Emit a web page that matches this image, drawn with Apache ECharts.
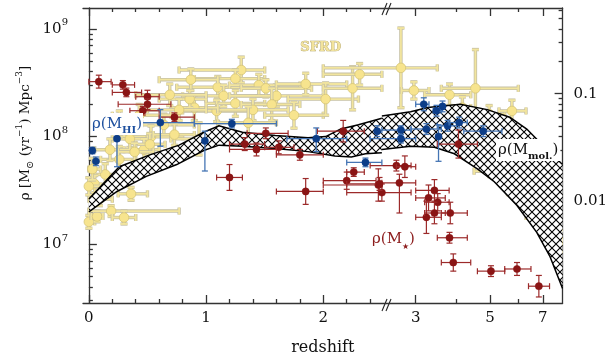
<!DOCTYPE html>
<html><head><meta charset="utf-8">
<script src="https://cdn.jsdelivr.net/npm/echarts@6.0.0/dist/echarts.min.js"></script>
<style>html,body{margin:0;padding:0;background:#fff}#c{width:610px;height:361px}</style>
</head><body><div id="c"></div>
<script>
// ---------- DATA ----------
// redshift axis: linear up to z=2.5, then log(1+z)
const xTickMajorZ = [0, 1, 2, 3, 5, 7];
const xTickMajorLabels = ['0', '1', '2', '3', '5', '7'];
const xTickMinorZ = [0.2,0.4,0.6,0.8,1.2,1.4,1.6,1.8,2.2,2.4,4,6];
const yLeftMajorExp = [7, 8, 9];
const yRightMajorLog = [-2, -1];
const yRightMajorLabels = ['0.01', '0.1'];

// rows: [z, zLo, zHi, log10(rho), errDown(dex), errUp(dex)]
const stellarMass = [
 [0.085,0.0,0.19,8.51,0.06,0.06],[0.29,0.20,0.39,8.48,0.04,0.04],[0.32,0.20,0.45,8.41,0.04,0.04],
 [0.50,0.40,0.60,8.37,0.06,0.06],[0.50,0.25,0.70,8.30,0.05,0.05],[0.46,0.35,0.60,8.24,0.04,0.04],
 [0.73,0.60,0.90,8.18,0.04,0.04],[1.20,1.09,1.31,7.62,0.12,0.12],[1.33,1.20,1.50,7.93,0.06,0.06],
 [1.51,1.35,1.70,8.03,0.05,0.05],[1.62,1.50,1.75,7.90,0.06,0.06],[1.80,1.60,2.00,7.83,0.05,0.05],
 [1.43,1.20,1.60,7.88,0.06,0.06],[1.85,1.60,2.00,7.49,0.12,0.12],[2.17,1.95,2.35,8.05,0.10,0.10],
 [2.26,2.20,2.35,7.67,0.04,0.04],[2.20,2.00,2.45,7.59,0.08,0.08],[2.47,2.00,2.50,7.55,0.15,0.15],
 [2.50,2.20,2.90,7.48,0.08,0.08],[2.60,2.40,2.90,7.73,0.05,0.05],[2.66,2.50,3.00,7.57,0.28,0.08],
 [2.77,2.60,3.00,7.72,0.10,0.10],[2.48,2.20,2.50,7.56,0.06,0.06],[3.43,3.00,3.80,7.50,0.10,0.10],
 [3.29,3.00,3.70,7.43,0.12,0.12],[3.51,3.20,3.80,7.39,0.08,0.08],[3.24,3.00,3.60,7.25,0.15,0.15],
 [3.43,3.20,3.70,7.29,0.10,0.10],[3.83,3.60,4.30,7.29,0.10,0.10],[3.81,3.50,4.30,7.06,0.05,0.05],
 [3.91,3.60,4.40,6.83,0.08,0.08],[5.03,4.60,5.50,6.75,0.05,0.05],[5.95,5.50,6.50,6.77,0.06,0.06],
 [6.83,6.40,7.30,6.61,0.10,0.10],[4.05,3.50,4.60,7.93,0.13,0.13]
];
const hiMass = [
 [0.03,0.03,0.03,7.87,0.03,0.03],[0.06,0.06,0.06,7.77,0.04,0.04],[0.24,0.24,0.24,7.98,0.26,0.02],
 [0.61,0.39,0.90,8.13,0.22,0.12],[1.22,0.90,1.60,8.12,0.04,0.04],[0.99,0.99,0.99,7.96,0.28,0.09],
 [1.94,1.69,2.20,7.98,0.12,0.10],[2.36,2.20,2.50,7.76,0.04,0.04],[2.46,2.46,2.46,8.05,0.05,0.05],
 [2.69,2.50,2.90,8.06,0.04,0.04],[2.69,2.40,3.00,7.98,0.04,0.04],[3.24,2.90,3.60,8.07,0.05,0.05],
 [3.53,3.53,3.53,8.00,0.23,0.11],[3.76,3.50,4.00,8.10,0.05,0.05],[4.07,3.80,4.30,8.13,0.05,0.05],
 [4.78,4.20,5.40,8.05,0.05,0.05],[3.18,3.00,3.30,8.30,0.06,0.06],[3.48,3.40,3.60,8.24,0.05,0.05],
 [3.63,3.63,3.63,8.28,0.05,0.05]
];
// SFRD rows: [z, zLo, zHi, log10(SFRD), errDown, errUp]
const sfrd = [
 [1.30,0.77,1.50,-0.78,0.12,0.12],[1.25,0.90,1.50,-0.86,0.08,0.08],[1.10,0.75,1.45,-0.94,0.10,0.10],
 [1.15,0.80,1.60,-1.02,0.10,0.10],[1.25,1.00,1.50,-1.09,0.12,0.12],[1.09,0.80,1.40,-1.16,0.10,0.10],
 [1.45,1.20,1.80,-0.92,0.10,0.10],[1.51,1.30,1.90,-0.95,0.08,0.08],[1.60,1.20,2.00,-1.02,0.10,0.10],
 [1.56,1.30,1.80,-1.10,0.15,0.15],[1.40,1.10,1.70,-1.15,0.10,0.10],[1.36,1.10,1.60,-1.27,0.15,0.15],
 [1.75,1.50,2.00,-1.20,0.12,0.12],[1.85,1.60,2.20,-0.91,0.10,0.10],[2.02,1.70,2.30,-1.05,0.15,0.15],
 [2.25,2.00,2.50,-0.95,0.20,0.20],[2.31,2.00,2.50,-0.82,0.10,0.10],[0.90,0.70,1.10,-1.13,0.12,0.12],
 [2.69,2.00,3.50,-0.76,0.37,0.37],[2.96,2.70,3.30,-0.97,0.08,0.08],[3.81,3.20,4.40,-1.01,0.10,0.10],
 [4.54,3.60,6.00,-0.95,0.40,0.36],[4.16,3.90,4.40,-1.13,0.10,0.10],[4.97,4.50,5.50,-1.19,0.08,0.08],
 [5.76,5.30,6.30,-1.16,0.10,0.10],[5.03,4.50,5.60,-1.72,0.05,0.05],[5.91,5.60,6.30,-1.92,0.06,0.06],
 [6.79,6.30,7.30,-2.14,0.10,0.10],[7.77,7.30,8.30,-2.37,0.10,0.10],[0.87,0.60,1.10,-0.87,0.10,0.10],
 [0.86,0.60,1.00,-1.05,0.08,0.08],[0.77,0.50,1.00,-1.15,0.10,0.10],[0.69,0.40,1.00,-1.01,0.10,0.10],
 [0.64,0.40,0.90,-1.29,0.10,0.10],[0.53,0.30,0.80,-1.40,0.10,0.10],[0.43,0.20,0.70,-1.20,0.10,0.10],
 [0.35,0.20,0.50,-1.42,0.08,0.08],[0.47,0.30,0.60,-1.52,0.10,0.10],[0.26,0.10,0.40,-1.61,0.12,0.12],
 [0.18,0.05,0.35,-1.52,0.10,0.10],[0.14,0.05,0.25,-1.75,0.10,0.10],[0.05,0.00,0.15,-1.84,0.08,0.08],
 [0.00,0.00,0.05,-2.19,0.06,0.06],[0.07,0.02,0.12,-2.14,0.05,0.05],[0.19,0.00,0.77,-2.09,0.05,0.05],
 [0.30,0.20,0.40,-2.15,0.06,0.06],[0.36,0.25,0.50,-1.93,0.06,0.06],[0.09,0.00,0.20,-1.98,0.06,0.06],
 [0.94,0.70,1.20,-1.42,0.15,0.15],[0.52,0.40,0.65,-1.47,0.10,0.10],[0.39,0.25,0.55,-1.54,0.08,0.08],
 [0.00,0.00,0.10,-1.86,0.08,0.08],[0.03,0.00,0.10,-1.70,0.10,0.10],[0.26,0.10,0.45,-1.28,0.12,0.12],
 [0.73,0.55,0.90,-1.38,0.10,0.10]
];
// molecular gas band edges: [z, log10(rho)]
const bandUpperLeft = [[0,7.42],[0.26,7.72],[0.52,7.83],[0.77,7.92],[0.98,8.04],[1.11,8.10],[1.31,8.04],[1.59,8.01],[1.87,7.99],[2.02,8.00],[2.15,8.07],[2.30,8.11],[2.5,8.17]];
const bandLowerLeft = [[0,7.30],[0.24,7.49],[0.49,7.63],[0.75,7.74],[0.98,7.87],[1.11,7.92],[1.31,7.91],[1.59,7.89],[1.87,7.86],[2.10,7.82],[2.24,7.81],[2.36,7.84],[2.5,7.85]];
const bandUpperRight = [[2.5,8.19],[2.89,8.23],[3.27,8.27],[4.10,8.30],[4.91,8.25],[5.68,8.18],[6.33,8.07],[7.04,7.91],[7.91,7.74]];
const bandLowerRight = [[2.5,7.88],[2.89,7.91],[3.43,7.90],[3.94,7.84],[4.60,7.70],[5.14,7.58],[5.95,7.36],[6.74,7.11],[7.31,6.89],[7.91,6.59]];

// ---------- helpers ----------
const LOG8 = Math.log10(8);
function zx(z) { return z <= 2.5 ? z : 3.873 + 3.602 * (Math.log10(1 + z) - LOG8); }
const P = v => Math.pow(10, v);
function toRows(rows) { return rows.map(r => [zx(r[0]), P(r[3]), zx(r[1]), zx(r[2]), P(r[3] - r[4]), P(r[3] + r[5])]); }

const FONT = 'DejaVu Serif';
const AX = '#333';
const yLmin = 6.454, yLmax = 9.194, yShift = 9.398;
const xMin = -0.05, xMax = 4.042;

const pat = document.createElement('canvas'); pat.width = pat.height = 8;
(function(){ const g = pat.getContext('2d'); g.fillStyle = '#fff'; g.fillRect(0,0,8,8);
  g.strokeStyle = '#000'; g.lineWidth = 1.1; g.beginPath();
  g.moveTo(-1,-1); g.lineTo(9,9); g.moveTo(-1,9); g.lineTo(9,-1); g.stroke(); })();

function errRender(st) {
  return function (params, api) {
    const x = api.value(0), y = api.value(1);
    const p = api.coord([x, y]);
    const l = api.coord([api.value(2), y]), r = api.coord([api.value(3), y]);
    const d = api.coord([x, api.value(4)]), u = api.coord([x, api.value(5)]);
    const c = st.cap, segs = [];
    if (r[0] - l[0] > 0.5) { segs.push([l, r], [[l[0], l[1]-c],[l[0], l[1]+c]], [[r[0], r[1]-c],[r[0], r[1]+c]]); }
    if (d[1] - u[1] > 0.5) { segs.push([u, d], [[u[0]-c, u[1]],[u[0]+c, u[1]]], [[d[0]-c, d[1]],[d[0]+c, d[1]]]); }
    const layers = st.outline ? [[st.outline, st.outW], [st.bar, st.barW]] : [[st.bar, st.barW]];
    const children = [];
    layers.forEach(([col, w]) => segs.forEach(s => children.push({ type: 'line',
      shape: { x1: s[0][0], y1: s[0][1], x2: s[1][0], y2: s[1][1] }, style: { stroke: col, lineWidth: w } })));
    children.push({ type: 'circle', shape: { cx: p[0], cy: p[1], r: st.r }, style: { fill: st.fill, stroke: st.stroke, lineWidth: st.sw } });
    return { type: 'group', children };
  };
}
function bandRender(params, api) {
  const mk = arr => arr.map(r => api.coord([zx(r[0]), P(r[1])]));
  const parts = [[bandUpperLeft, bandLowerLeft], [bandUpperRight, bandLowerRight]];
  const children = [];
  parts.forEach(([U, L]) => {
    const up = mk(U), lo = mk(L);
    children.push({ type: 'polygon', shape: { points: up.concat(lo.slice().reverse()) }, style: { fill: { image: pat, repeat: 'repeat' } } });
    children.push({ type: 'polyline', shape: { points: up }, style: { stroke: '#000', lineWidth: 1.5, fill: null } });
    children.push({ type: 'polyline', shape: { points: lo }, style: { stroke: '#000', lineWidth: 1.5, fill: null } });
  });
  return { type: 'group', children };
}

const xMajor = xTickMajorZ.map(zx), xMinor = xTickMinorZ.map(zx);
const xLabelMap = {}; xMajor.forEach((v, i) => xLabelMap[v.toFixed(4)] = xTickMajorLabels[i]);
const yLeftMinor = [], yRightMinor = [];
[6,7,8,9].forEach(d => { for (let m = 2; m <= 9; m++) { const v = d + Math.log10(m); if (v > yLmin && v < yLmax) yLeftMinor.push(v); } });
[-3,-2,-1].forEach(d => { for (let m = 2; m <= 9; m++) { const v = d + Math.log10(m); if (v > yLmin - yShift && v < yLmax - yShift) yRightMinor.push(v); } });
const rightLabelMap = {}; yRightMajorLog.forEach((v, i) => rightLabelMap[v.toFixed(3)] = yRightMajorLabels[i]);

const lineSt = { color: AX, width: 1.3 };
function xAx(pos, major) {
  return { type: 'value', position: pos, min: xMin, max: xMax, splitLine: { show: false },
    axisLine: { show: major, onZero: false, lineStyle: lineSt },
    axisTick: { show: true, inside: true, length: major ? 8 : 4, customValues: major ? xMajor : xMinor, lineStyle: lineSt },
    axisLabel: major && pos === 'bottom' ? { show: true, customValues: xMajor, formatter: v => xLabelMap[v.toFixed(4)] || '',
      fontFamily: FONT, fontSize: 15, color: '#111', margin: 8 } : { show: false },
    name: major && pos === 'bottom' ? 'redshift' : '', nameLocation: 'middle', nameGap: 37,
    nameTextStyle: { fontFamily: FONT, fontSize: 16, color: '#111' } };
}
const supRich = { b: { fontFamily: FONT, fontSize: 15, color: '#111', lineHeight: 22, verticalAlign: 'middle' },
  s: { fontFamily: FONT, fontSize: 10, color: '#111', lineHeight: 12, verticalAlign: 'top' } };

const option = {
  animation: false,
  grid: { left: 83, right: 44, top: 8, bottom: 57 },
  xAxis: [xAx('bottom', true), xAx('bottom', false), xAx('top', true), xAx('top', false)],
  yAxis: [
    { type: 'log', logBase: 10, min: P(yLmin), max: P(yLmax), show: false, position: 'left' },
    { type: 'log', logBase: 10, min: P(yLmin - yShift), max: P(yLmax - yShift), show: false, position: 'right' },
    { type: 'value', position: 'left', min: yLmin, max: yLmax, splitLine: { show: false },
      axisLine: { show: true, lineStyle: lineSt },
      axisTick: { inside: true, length: 8, customValues: yLeftMajorExp, lineStyle: lineSt },
      axisLabel: { customValues: yLeftMajorExp, formatter: v => '{b|10}{s|' + Math.round(v) + '}', rich: supRich, margin: 15 } },
    { type: 'value', position: 'left', min: yLmin, max: yLmax, splitLine: { show: false }, axisLine: { show: false },
      axisTick: { inside: true, length: 4, customValues: yLeftMinor, lineStyle: lineSt }, axisLabel: { show: false } },
    { type: 'value', position: 'right', min: yLmin - yShift, max: yLmax - yShift, splitLine: { show: false },
      axisLine: { show: true, lineStyle: lineSt },
      axisTick: { inside: true, length: 8, customValues: yRightMajorLog, lineStyle: lineSt },
      axisLabel: { customValues: yRightMajorLog, formatter: v => rightLabelMap[v.toFixed(3)] || '', fontFamily: FONT, fontSize: 15, color: '#111', margin: 11 } },
    { type: 'value', position: 'right', min: yLmin - yShift, max: yLmax - yShift, splitLine: { show: false }, axisLine: { show: false },
      axisTick: { inside: true, length: 4, customValues: yRightMinor, lineStyle: lineSt }, axisLabel: { show: false } }
  ],
  series: [
    { type: 'custom', name: 'SFRD', xAxisIndex: 0, yAxisIndex: 1, clip: true, z: 2,
      renderItem: errRender({ cap: 3.5, bar: '#f2e59e', barW: 1.8, outline: '#c6c0a4', outW: 3.4, r: 4.8, fill: '#f7e48e', stroke: '#d6c577', sw: 0.8 }),
      data: toRows(sfrd) },
    { type: 'custom', name: 'band', xAxisIndex: 0, yAxisIndex: 0, clip: true, z: 3, renderItem: bandRender, data: [[1, 1e8]] },
    { type: 'custom', name: 'stellar', xAxisIndex: 0, yAxisIndex: 0, clip: true, z: 4,
      renderItem: errRender({ cap: 3, bar: '#9c2a2a', barW: 1.2, r: 3.6, fill: '#8a1515', stroke: '#8a1515', sw: 0.5 }),
      data: toRows(stellarMass) },
    { type: 'custom', name: 'HI', xAxisIndex: 0, yAxisIndex: 0, clip: true, z: 5,
      renderItem: errRender({ cap: 3, bar: '#4575b4', barW: 1.3, r: 3.6, fill: '#0c3d88', stroke: '#0c3d88', sw: 0.5 }),
      data: toRows(hiMass) }
  ],
  graphic: [
    { type: 'group', z: 100, children: [
      { type: 'rect', shape: { x: 383, y: 300, width: 8, height: 8 }, style: { fill: '#fff' } },
      { type: 'line', shape: { x1: 382, y1: 311, x2: 387, y2: 299 }, style: { stroke: '#222', lineWidth: 1.1 } },
      { type: 'line', shape: { x1: 386, y1: 311, x2: 391, y2: 299 }, style: { stroke: '#222', lineWidth: 1.1 } },
      { type: 'rect', shape: { x: 383, y: 4, width: 8, height: 8 }, style: { fill: '#fff' } },
      { type: 'line', shape: { x1: 382, y1: 15, x2: 387, y2: 3 }, style: { stroke: '#222', lineWidth: 1.1 } },
      { type: 'line', shape: { x1: 386, y1: 15, x2: 391, y2: 3 }, style: { stroke: '#222', lineWidth: 1.1 } }
    ] },
    { type: 'text', x: 25, y: 133, rotation: Math.PI / 2, z: 100, style: {
      text: '{t|ρ [M}{sb|⊙}{t| (yr}{sp|−1}{t|) Mpc}{sp|−3}{t|]}', align: 'center', verticalAlign: 'middle',
      rich: { t: { fontFamily: FONT, fontSize: 13.5, fill: '#111', lineHeight: 20, verticalAlign: 'middle' },
        sb: { fontFamily: FONT, fontSize: 10, fill: '#111', lineHeight: 12, verticalAlign: 'bottom' },
        sp: { fontFamily: FONT, fontSize: 9, fill: '#111', lineHeight: 11, verticalAlign: 'top' } } } },
    { type: 'text', left: 300, top: 41, z: 100, style: { text: 'SFRD', font: 'bold 13px "DejaVu Serif"', fill: '#f2e39c', stroke: '#a89a62', lineWidth: 0.7 } },
    { type: 'text', left: 91, top: 113, z: 100, style: { text: '{a|ρ(M}{b|HI}{a|)}', backgroundColor: '#fff', padding: [0, 1],
      rich: { a: { fontFamily: FONT, fontSize: 15, fill: '#1d4f9e', lineHeight: 22, verticalAlign: 'middle' }, b: { fontFamily: FONT, fontSize: 10, fontWeight: 'bold', fill: '#1d4f9e', lineHeight: 12, verticalAlign: 'bottom' } } } },
    { type: 'text', left: 496, top: 139, z: 100, style: { text: '{a|ρ(M}{b|mol.}{a|)}', backgroundColor: '#fff', padding: [0, 2],
      rich: { a: { fontFamily: FONT, fontSize: 15, fill: '#111', lineHeight: 22, verticalAlign: 'middle' }, b: { fontFamily: FONT, fontSize: 10, fontWeight: 'bold', fill: '#111', lineHeight: 12, verticalAlign: 'bottom' } } } },
    { type: 'text', left: 372, top: 232, z: 100, style: { text: '{a|ρ(M}{b|★}{a|)}',
      rich: { a: { fontFamily: FONT, fontSize: 15, fill: '#8c1c1c', lineHeight: 22, verticalAlign: 'middle' }, b: { fontFamily: FONT, fontSize: 8, fill: '#8c1c1c', lineHeight: 12, verticalAlign: 'bottom' } } } }
  ]
};
const chart = echarts.init(document.getElementById('c'));
chart.setOption(option);
</script></body></html>
